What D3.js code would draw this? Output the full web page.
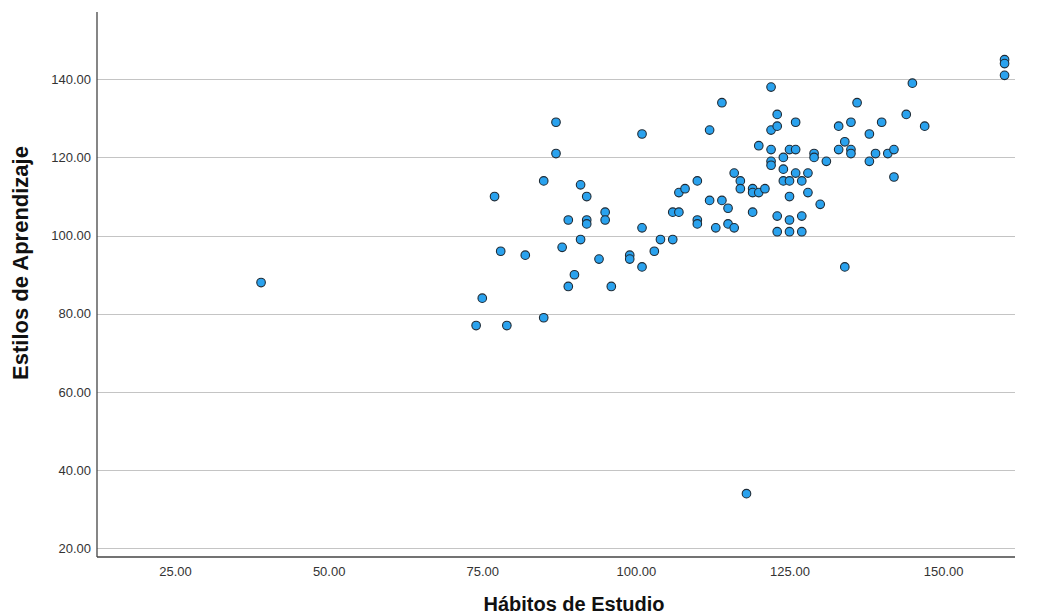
<!DOCTYPE html>
<html>
<head>
<meta charset="utf-8">
<title>Estilos de Aprendizaje vs Hábitos de Estudio</title>
<script src="https://d3js.org/d3.v7.min.js"></script>
<style>
  body { margin: 0; background: #fff; }
  svg text { font-family: "Liberation Sans", Arial, sans-serif; }
</style>
</head>
<body>
<svg id="chart"></svg>
<script>
// values
var habitos = [39, 74, 75, 77, 78, 79, 82, 85, 85, 87, 87, 88, 89, 89, 90, 91, 91, 92, 92, 92,
  94, 95, 95, 96, 99, 99, 101, 101, 101, 103, 104, 106, 106, 107, 107, 108, 110, 110, 110, 112,
  112, 113, 114, 114, 115, 115, 116, 116, 117, 117, 118, 119, 119, 119, 120, 120, 121, 122, 122, 122,
  122, 122, 123, 123, 123, 123, 124, 124, 124, 125, 125, 125, 125, 125, 126, 126, 126, 127, 127, 127,
  128, 128, 129, 129, 130, 131, 133, 133, 134, 134, 135, 135, 135, 136, 138, 138, 139, 140, 141, 142,
  142, 144, 145, 147, 160, 160, 160];
var estilos = [88, 77, 84, 110, 96, 77, 95, 114, 79, 129, 121, 97, 104, 87, 90, 113, 99, 110, 104, 103,
  94, 106, 104, 87, 95, 94, 126, 102, 92, 96, 99, 99, 106, 106, 111, 112, 114, 104, 103, 127,
  109, 102, 134, 109, 107, 103, 116, 102, 114, 112, 34, 112, 111, 106, 123, 111, 112, 138, 127, 122,
  119, 118, 131, 128, 105, 101, 120, 117, 114, 122, 114, 110, 104, 101, 129, 122, 116, 114, 105, 101,
  116, 111, 121, 120, 108, 119, 128, 122, 124, 92, 129, 122, 121, 134, 126, 119, 121, 129, 121, 122,
  115, 131, 139, 128, 145, 144, 141];
var xTicks = [25, 50, 75, 100, 125, 150];
var yTicks = [20, 40, 60, 80, 100, 120, 140];

var vWidth = 1040, vHeight = 616;
var plotLeft = 97, plotRight = 1015, plotTop = 12, plotBottom = 557;

var svg = d3.select('#chart').attr('width', vWidth).attr('height', vHeight);

var x = d3.scaleLinear().domain([12.3, 161.7]).range([plotLeft, plotRight]);
var y = d3.scaleLinear().domain([17.8, 157.2]).range([plotBottom, plotTop]);

// gridlines
svg.append('g').selectAll('line').data(yTicks).enter().append('line')
    .attr('x1', plotLeft).attr('x2', plotRight)
    .attr('y1', function (d) { return Math.round(y(d)) + 0.5; })
    .attr('y2', function (d) { return Math.round(y(d)) + 0.5; })
    .style('stroke', '#c4c4c4').style('stroke-width', 1);

// axes, no tick marks
var yAxis = svg.append('g').attr('transform', 'translate(' + plotLeft + ',0)')
    .call(d3.axisLeft(y).tickValues(yTicks).tickSize(0).tickPadding(6).tickFormat(d3.format('.2f')));
var xAxis = svg.append('g').attr('transform', 'translate(0,' + plotBottom + ')')
    .call(d3.axisBottom(x).tickValues(xTicks).tickSize(0).tickPadding(10).tickFormat(d3.format('.2f')));

[yAxis, xAxis].forEach(function (a) {
  a.select('.domain').style('stroke', '#444').style('stroke-width', 1.3);
  a.selectAll('text').style('font-size', '13px').style('fill', '#333')
      .style('font-family', '"Liberation Sans", Arial, sans-serif');
});
xAxis.select('.domain').attr('d', 'M' + plotLeft + ',0H' + plotRight);
yAxis.select('.domain').attr('d', 'M0,' + plotTop + 'V' + plotBottom);

// points
svg.append('g').selectAll('circle').data(habitos).enter().append('circle')
    .attr('cx', function (d) { return x(d); })
    .attr('cy', function (d, i) { return y(estilos[i]); })
    .attr('r', 4.3)
    .style('fill', '#2aa2ee')
    .style('stroke', '#1e2b36')
    .style('stroke-width', 1.1);

// axis titles
svg.append('text')
    .attr('transform', 'translate(28,263) rotate(-90)')
    .attr('text-anchor', 'middle')
    .style('font-size', '22px').style('font-weight', 'bold').style('fill', '#111')
    .text('Estilos de Aprendizaje');

svg.append('text')
    .attr('x', 574).attr('y', 611)
    .attr('text-anchor', 'middle')
    .style('font-size', '20px').style('font-weight', 'bold').style('fill', '#111')
    .text('Hábitos de Estudio');
</script>
</body>
</html>
